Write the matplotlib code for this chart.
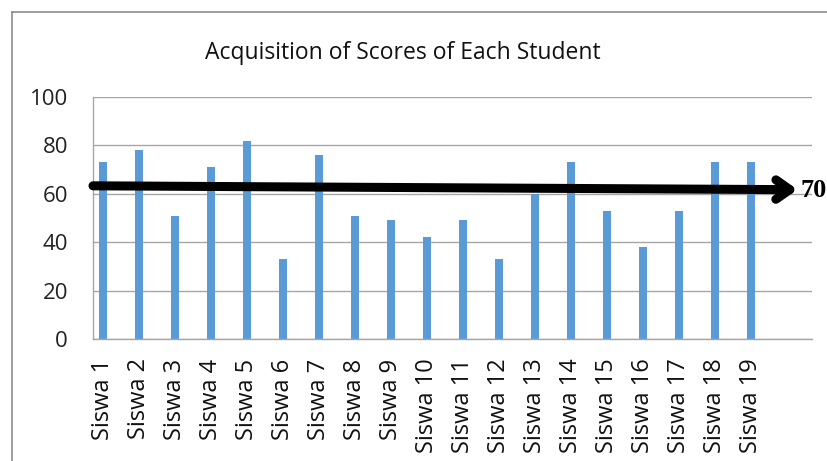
import matplotlib.pyplot as plt
from matplotlib.lines import Line2D

students = ["Siswa %d" % i for i in range(1, 20)]
scores = [73, 78, 51, 71, 82, 33, 76, 51, 49, 42, 49, 33, 60, 73, 53, 38, 53, 73, 73]
yticks = [0, 20, 40, 60, 80, 100]
kkm_label = "70"

fig = plt.figure(figsize=(8.28, 4.61), dpi=100)
ax = fig.add_axes([0.1123, 0.2646, 0.8684, 0.525])

grid_col = '#a6a6a6'
x = list(range(len(students)))
ax.bar(x, scores, width=0.24, color='#5b9bd5', zorder=2)

ax.set_ylim(0, 100)
ax.set_xlim(-0.28, 19.7)
ax.set_yticks(yticks)
ax.set_yticklabels([str(v) for v in yticks], fontsize=16, family='Open Sans', color='#222222')
ax.set_xticks(x)
ax.set_xticklabels(students, rotation=90, fontsize=17, family='Open Sans', color='#111111',
                   va='top')
ax.tick_params(axis='both', length=0)
ax.tick_params(axis='y', pad=18)
ax.tick_params(axis='x', pad=14)
ax.yaxis.grid(True, color=grid_col, lw=1, zorder=0)
ax.set_axisbelow(True)
for s in ['top', 'right']:
    ax.spines[s].set_visible(False)
for s in ['left', 'bottom']:
    ax.spines[s].set_color(grid_col)
    ax.spines[s].set_linewidth(1)

fig.text(0.486, 0.885, "Acquisition of Scores of Each Student", ha='center', va='center',
         fontsize=16.5, family='Open Sans', color='#111111')

# threshold arrow
ax.annotate("", xy=(19.3, 61.7), xytext=(-0.28, 63.3),
            arrowprops=dict(arrowstyle='->,head_length=1.0,head_width=0.7', lw=6.5,
                            color='black', shrinkA=0, shrinkB=0, capstyle='round',
                            joinstyle='round'),
            annotation_clip=False, zorder=5)
ax.text(19.38, 61.5, kkm_label, fontsize=19, family='Liberation Serif', fontweight='bold',
        va='center', ha='left', clip_on=False)

# outer chart border (left/top visible)
fig.add_artist(Line2D([12 / 828, 12 / 828], [0, 1 - 12 / 461], transform=fig.transFigure,
                      color='#8c8c8c', lw=1.2))
fig.add_artist(Line2D([12 / 828, 1], [1 - 12 / 461, 1 - 12 / 461], transform=fig.transFigure,
                      color='#8c8c8c', lw=1.2))

fig.savefig("out.png", dpi=100)
